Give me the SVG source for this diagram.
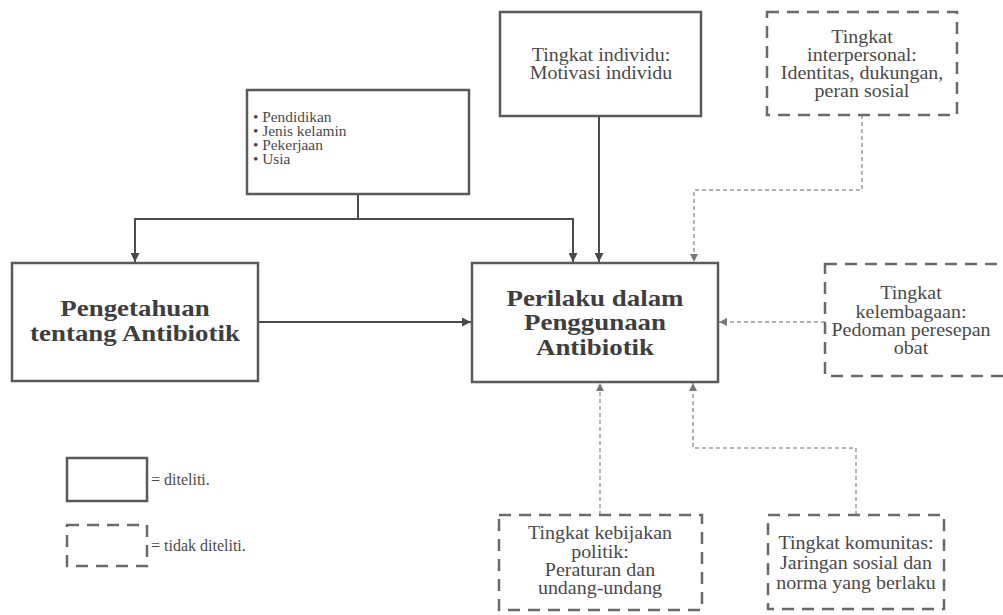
<svg xmlns="http://www.w3.org/2000/svg" width="1003" height="615" viewBox="0 0 1003 615">
<style>
.box{fill:#fff;stroke:#5a5a5a;stroke-width:2.5}
.dbox{fill:#fff;stroke:#6a6a6a;stroke-width:2.5;stroke-dasharray:12 8}
text{fill:#4a4a4a}
.t{text-anchor:middle}
.s{font-size:18px}
.b{font-size:24px;font-weight:bold;fill:#3e3e3e}
.b2{font-size:23px;font-weight:bold;fill:#3e3e3e}
.sm{font-size:14px}
.lg{font-size:16px}
.c{fill:none;stroke:#4a4a4a;stroke-width:2}
.dc{fill:none;stroke:#9a9a9a;stroke-width:1.5;stroke-dasharray:4 3}
</style>
<defs>
<marker id="a" viewBox="0 0 10 10" refX="10" refY="5" markerWidth="9" markerHeight="9" markerUnits="userSpaceOnUse" orient="auto"><path d="M0,0 L10,5 L0,10 Z" fill="#4a4a4a"/></marker>
<marker id="da" viewBox="0 0 10 10" refX="10" refY="5" markerWidth="8" markerHeight="8" markerUnits="userSpaceOnUse" orient="auto"><path d="M0,0 L10,5 L0,10 Z" fill="#777"/></marker>
</defs>
<rect width="1003" height="615" fill="#fff"/>
<g id="connectors">
<path class="c" d="M358,194 V219 H135 V262" marker-end="url(#a)"/>
<path class="c" d="M358,219 H573 V262" marker-end="url(#a)"/>
<path class="c" d="M599,116 V262" marker-end="url(#a)"/>
<path class="c" d="M258,322 H471" marker-end="url(#a)"/>
<path class="dc" d="M862,115 V190 H694 V262" marker-end="url(#da)"/>
<path class="dc" d="M825,322 H719" marker-end="url(#da)"/>
<path class="dc" d="M600,515 V383" marker-end="url(#da)"/>
<path class="dc" d="M856,515 V448 H693 V383" marker-end="url(#da)"/>
</g>
<g font-family="Liberation Serif, serif">
<g id="demografi">
<rect class="box" x="247" y="90" width="222" height="104"/>
<g transform="translate(253 0) scale(1.1 1)">
<text class="sm" x="0" y="122">• Pendidikan</text>
<text class="sm" x="0" y="136">• Jenis kelamin</text>
<text class="sm" x="0" y="150">• Pekerjaan</text>
<text class="sm" x="0" y="164">• Usia</text>
</g>
</g>
<g id="individu">
<rect class="box" x="500" y="12" width="201" height="104"/>
<g transform="translate(601 0) scale(1.11 1)">
<text class="t s" x="0" y="61">Tingkat individu:</text>
<text class="t s" x="0" y="79">Motivasi individu</text>
</g>
</g>
<g id="interpersonal">
<rect class="dbox" x="767" y="12" width="190" height="103"/>
<g transform="translate(862 0) scale(1.11 1)">
<text class="t s" x="0" y="43">Tingkat</text>
<text class="t s" x="0" y="61">interpersonal:</text>
<text class="t s" x="0" y="79">Identitas, dukungan,</text>
<text class="t s" x="0" y="97">peran sosial</text>
</g>
</g>
<g id="pengetahuan">
<rect class="box" x="12" y="263" width="246" height="118"/>
<g transform="translate(135 0) scale(1.12 1)">
<text class="t b" x="0" y="316">Pengetahuan</text>
<text class="t b" x="0" y="341">tentang Antibiotik</text>
</g>
</g>
<g id="perilaku">
<rect class="box" x="472" y="263" width="246" height="119"/>
<g transform="translate(595 0) scale(1.17 1)">
<text class="t b2" x="0" y="306">Perilaku dalam</text>
<text class="t b2" x="0" y="330.5">Penggunaan</text>
<text class="t b2" x="0" y="355">Antibiotik</text>
</g>
</g>
<g id="kelembagaan">
<rect class="dbox" x="825" y="264" width="183" height="112"/>
<g transform="translate(911 0) scale(1.11 1)">
<text class="t s" x="0" y="299">Tingkat</text>
<text class="t s" x="0" y="318">kelembagaan:</text>
<text class="t s" x="0" y="336">Pedoman peresepan</text>
<text class="t s" x="0" y="354">obat</text>
</g>
</g>
<g id="politik">
<rect class="dbox" x="499" y="515" width="203" height="95"/>
<g transform="translate(600 0) scale(1.11 1)">
<text class="t s" x="0" y="539">Tingkat kebijakan</text>
<text class="t s" x="0" y="558">politik:</text>
<text class="t s" x="0" y="576">Peraturan dan</text>
<text class="t s" x="0" y="594">undang-undang</text>
</g>
</g>
<g id="komunitas">
<rect class="dbox" x="768" y="515" width="176" height="94"/>
<g transform="translate(856 0) scale(1.11 1)">
<text class="t s" x="0" y="549">Tingkat komunitas:</text>
<text class="t s" x="0" y="569">Jaringan sosial dan</text>
<text class="t s" x="0" y="589">norma yang berlaku</text>
</g>
</g>
<g id="legend">
<rect class="box" x="67" y="458" width="80" height="43"/>
<text class="lg" x="151" y="485">=  diteliti.</text>
<rect class="dbox" x="67" y="525" width="80" height="41"/>
<text class="lg" x="151" y="551">=  tidak diteliti.</text>
</g>
</g>
</svg>
